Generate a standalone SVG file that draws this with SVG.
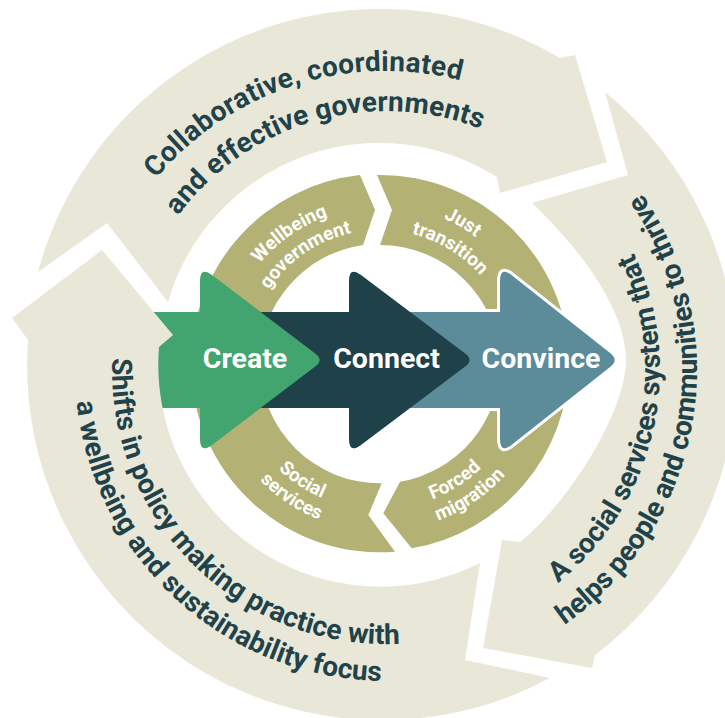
<svg xmlns="http://www.w3.org/2000/svg" width="725" height="718" viewBox="0 0 725 718">
<style>
.beige{fill:#E9E8D8}
.olive{fill:#B3B174}
.ot{font-family:Roboto,"Liberation Sans",Arial,sans-serif;font-weight:700;font-size:28px;fill:#1F424B}
.it{font-family:Roboto,"Liberation Sans",Arial,sans-serif;font-weight:700;font-size:19px;fill:#FFFFFF}
.ct{font-family:Roboto,"Liberation Sans",Arial,sans-serif;font-weight:700;font-size:28.5px;fill:#FFFFFF;text-anchor:middle}
</style>
<defs>
<path id="pTop1" d="M105.2,267.2 A299,299 0 0 1 553.6,122.4"/>
<path id="pTop2" d="M145.9,273 A259,259 0 0 1 538.2,160.5"/>
<path id="pRight1" d="M502.2,618.1 A274,274 0 0 0 598.6,197.2"/>
<path id="pRight2" d="M531.1,645.1 A311,311 0 0 0 617.8,162.7"/>
<path id="pLeft1" d="M116,323.4 A274,274 0 0 0 434.5,639.7"/>
<path id="pLeft2" d="M77.7,329.4 A311,311 0 0 0 453.3,673.6"/>
<path id="pWell" d="M226.4,335.9 A156,156 0 0 1 407.1,209.4"/>
<path id="pGov" d="M249.2,338.8 A133,133 0 0 1 404.2,232.2"/>
<path id="pJust" d="M340.4,210 A158,158 0 0 1 533,323.4"/>
<path id="pTrans" d="M348.7,233.7 A133,133 0 0 1 509.3,331.7"/>
<path id="pSoc" d="M236,392.3 A147,147 0 0 0 409.3,507"/>
<path id="pServ" d="M215.4,396.5 A168,168 0 0 0 413.5,527.6"/>
<path id="pForced" d="M348.2,505.5 A146,146 0 0 0 522.5,394.8"/>
<path id="pMig" d="M348.5,528 A168,168 0 0 0 545,394.5"/>
</defs>
<rect width="725" height="718" fill="#FFFFFF"/>

<g id="outer-top">
<path class="beige" d="M38,272 A354,354 0 0 1 560,58 L575,55 L607,162 L500,193 L497,177 A220,220 0 0 0 168,302 L107,223 Z"/>
<text class="ot"><textPath href="#pTop1" startOffset="50%" text-anchor="middle" textLength="337">Collaborative, coordinated</textPath></text>
<text class="ot"><textPath href="#pTop2" startOffset="50%" text-anchor="middle" textLength="338">and effective governments</textPath></text>
</g>

<g id="outer-right">
<path class="beige" d="M605,92 A358,358 0 0 1 595,655 L592,668 L483,648 L502,540 L520,542 C563.4,508.1 626,415 626,360 C626,305 571.8,240.8 532,203 L628,175 Z"/>
<text class="ot"><textPath href="#pRight1" startOffset="50%" text-anchor="middle" textLength="365">A social services system that</textPath></text>
<text class="ot"><textPath href="#pRight2" startOffset="50%" text-anchor="middle" textLength="486">helps people and communities to thrive</textPath></text>
</g>

<g id="ring-wellbeing">
<path class="olive" d="M191,363 A189,189 0 0 1 360,175 L375,210 L363,245 A120,120 0 0 0 260,363 Z"/>
<text class="it"><textPath href="#pWell" startOffset="50%" text-anchor="middle">Wellbeing</textPath></text>
<text class="it"><textPath href="#pGov" startOffset="50%" text-anchor="middle">government</textPath></text>
</g>
<g id="ring-just">
<path class="olive" d="M377,175 A189,189 0 0 1 569,363 L500,363 A120,120 0 0 0 380,245 L392,210 Z"/>
<text class="it"><textPath href="#pJust" startOffset="50%" text-anchor="middle">Just</textPath></text>
<text class="it"><textPath href="#pTrans" startOffset="50%" text-anchor="middle">transition</textPath></text>
</g>
<g id="ring-forced">
<path class="olive" d="M569,363 A189,189 0 0 1 411.7,548.3 L383.3,513.3 L400,481.7 A120,120 0 0 0 500,363 Z"/>
<text class="it"><textPath href="#pForced" startOffset="50%" text-anchor="middle">Forced</textPath></text>
<text class="it"><textPath href="#pMig" startOffset="50%" text-anchor="middle">migration</textPath></text>
</g>
<g id="ring-social">
<path class="olive" d="M395,551.7 A189,189 0 0 1 191,363 L260,363 A120,120 0 0 0 381.7,483.3 L368.3,515 Z"/>
<text class="it"><textPath href="#pSoc" startOffset="50%" text-anchor="middle">Social</textPath></text>
<text class="it"><textPath href="#pServ" startOffset="50%" text-anchor="middle">services</textPath></text>
</g>

<g id="convince">
<path d="M380,312 H500 V281 Q500,266 511.8,275.3 L610.4,353.2 Q619,360 610.4,366.8 L511.8,444.7 Q500,454 500,439 V408 H380 Z" fill="#5C8C99" stroke="#FFFFFF" stroke-width="6" stroke-linejoin="round" paint-order="stroke"/>
<text class="ct" x="541" y="368">Convince</text>
</g>
<g id="connect">
<path d="M230,312 H349 V281 Q349,266 361,275.1 L465.2,353.4 Q474,360 465.2,366.6 L361,444.9 Q349,454 349,439 V408 H230 Z" fill="#1F414A"/>
<text class="ct" x="386.5" y="368">Connect</text>
</g>
<g id="create">
<path d="M140,312 H200 V281 Q200,266 212,275.1 L315.2,353.4 Q324,360 315.2,366.6 L212,444.9 Q200,454 200,439 V408 H140 Z" fill="#42A46E"/>
<text class="ct" x="245" y="368">Create</text>
</g>

<g id="outer-left">
<path class="beige" d="M550,678 A355,355 0 0 1 28,340 L12,318 L102,250 L173,335 L159,347 A222,222 0 0 0 480,563 L465,660 Z"/>
<text class="ot"><textPath href="#pLeft1" startOffset="50%" text-anchor="middle" textLength="456">Shifts in policy making practice with</textPath></text>
<text class="ot"><textPath href="#pLeft2" startOffset="50%" text-anchor="middle" textLength="452">a wellbeing and sustainability focus</textPath></text>
</g>

<g id="connectors"></g>
</svg>
